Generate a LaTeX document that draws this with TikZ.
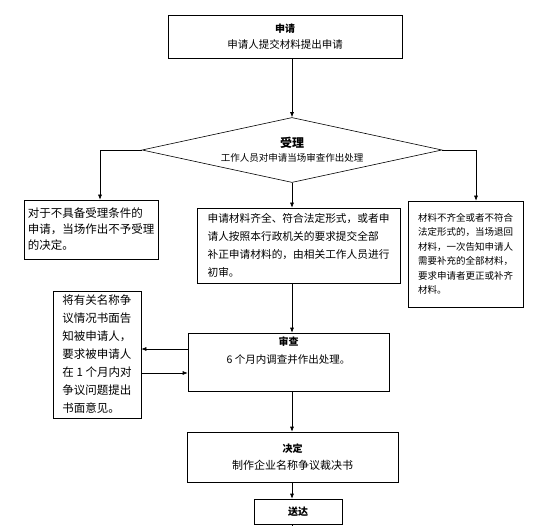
\documentclass[tikz,border=0pt]{standalone}
\usepackage{fontspec}
\setmainfont{Noto Sans CJK SC}
\usetikzlibrary{shapes.geometric, arrows.meta}

\begin{document}
\begin{tikzpicture}[x=1pt, y=-1pt, >={Latex[length=5pt, width=4pt]}, line width=0.6pt,
  procbox/.style={rectangle, draw, align=center, inner sep=2pt},
  notebox/.style={rectangle, draw, align=left, inner sep=2pt}]
  \useasboundingbox (0,0) rectangle (559,526);

  % Create the nodes
  \node (apply) [procbox, minimum width=234pt, minimum height=43pt, font=\fontsize{10.5}{16}\selectfont] at (285,36.5) {{\fontsize{10}{16}\selectfont\bfseries 申请}\\申请人提交材料提出申请};
  \node (accept) [diamond, draw, aspect=4.6, minimum width=300pt, minimum height=65pt, inner sep=0pt, align=center, font=\fontsize{9.5}{14}\selectfont] at (292,150) {{\fontsize{12}{14}\selectfont\bfseries 受理}\\工作人员对申请当场审查作出处理};

  \node (reject) [notebox, minimum width=134pt, minimum height=59pt, font=\fontsize{11.5}{16}\selectfont] at (91,229.5) {对于不具备受理条件的\\申请，当场作出不予受理\\的决定。};
  \node (initial) [notebox, minimum width=203pt, minimum height=75pt, font=\fontsize{10.7}{18}\selectfont] at (298.5,245.5) {申请材料齐全、符合法定形式，或者申\\请人按照本行政机关的要求提交全部\\补正申请材料的，由相关工作人员进行\\初审。};
  \node (supplement) [notebox, minimum width=115pt, minimum height=106pt, font=\fontsize{9.5}{14.5}\selectfont] at (465.5,254) {材料不齐全或者不符合\\法定形式的，当场退回\\材料，一次告知申请人\\需要补充的全部材料，\\要求申请者更正或补齐\\材料。};

  \node (notify) [notebox, minimum width=88pt, minimum height=127pt, font=\fontsize{11.5}{18}\selectfont] at (97,354.5) {将有关名称争\\议情况书面告\\知被申请人，\\要求被申请人\\在 1 个月内对\\争议问题提出\\书面意见。};
  \node (review) [procbox, minimum width=201pt, minimum height=58pt, font=\fontsize{10.5}{18}\selectfont] at (288.5,362) {{\fontsize{10}{18}\selectfont\bfseries 审查}\\6 个月内调查并作出处理。\\ \strut};
  \node (decide) [procbox, minimum width=211pt, minimum height=50pt, font=\fontsize{11}{17}\selectfont] at (292.5,457) {{\fontsize{10}{17}\selectfont\bfseries 决定}\\制作企业名称争议裁决书};
  \node (deliver) [procbox, minimum width=88pt, minimum height=25pt, font=\fontsize{10}{12}\selectfont\bfseries] at (298,511.5) {送达};

  \coordinate (lturn) at (100,150);
  \coordinate (rturn) at (476,150);
  \coordinate (tail) at (292,526);

  % Main line
  \draw [->] (apply.south -| accept) -- (accept.north);
  \draw [->] (accept.south) -- (initial.north -| accept);
  \draw [->] (initial.south -| accept) -- (review.north -| accept);
  \draw [->] (review.south -| accept) -- (decide.north -| accept);
  \draw [->] (decide.south -| accept) -- (deliver.north -| accept);
  \draw (deliver.south -| accept) -- (tail);

  % Side branches
  \draw [->] (accept.west) -- (lturn) -- (lturn |- reject.north);
  \draw [->] (accept.east) -- (rturn) -- (rturn |- supplement.north);
  \draw [->] ([yshift=13pt]review.west) -- ([yshift=13pt]review.west -| notify.east);
  \draw [->] ([yshift=-11pt]review.west -| notify.east) -- ([yshift=-11pt]review.west);
\end{tikzpicture}
\end{document}
